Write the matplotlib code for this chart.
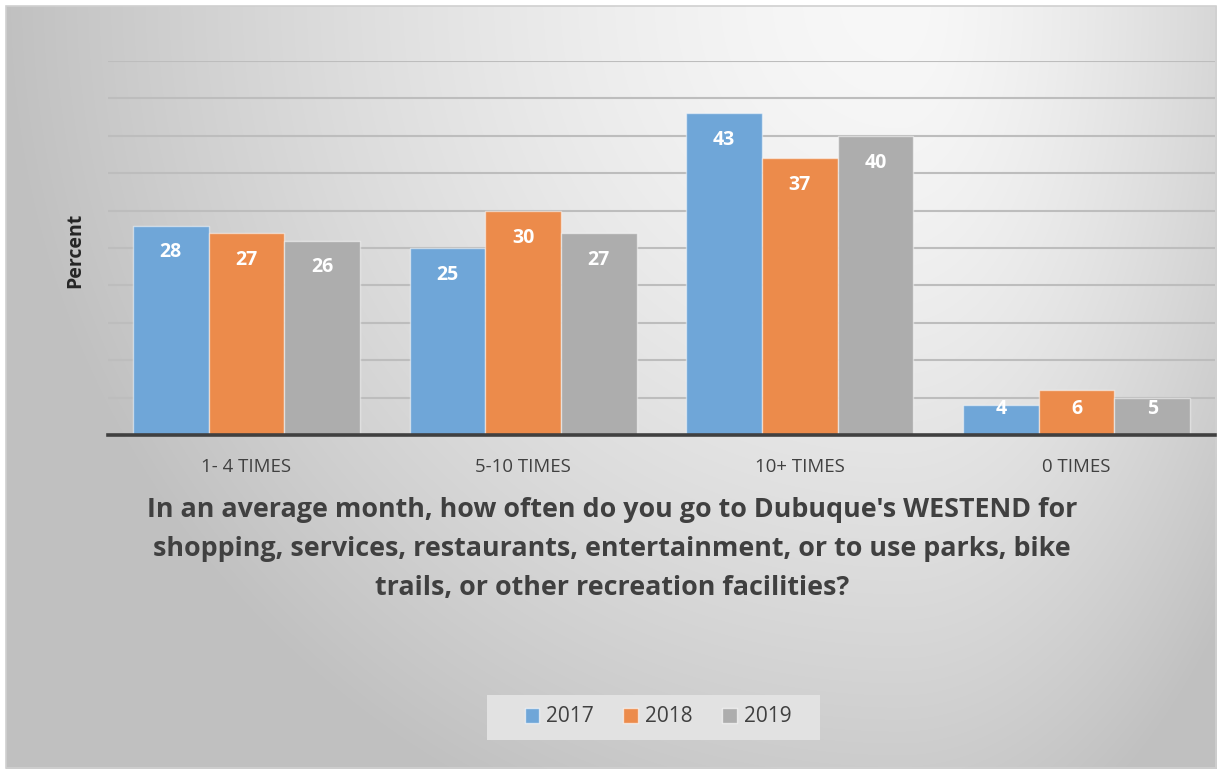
import numpy as np
import matplotlib
matplotlib.use('Agg')
import matplotlib.pyplot as plt
from matplotlib.patches import Patch, Rectangle

plt.rcParams['font.family'] = ['Open Sans', 'DejaVu Sans']

# данные
categories = ['1- 4 TIMES', '5-10 TIMES', '10+ TIMES', '0 TIMES']
years = ['2017', '2018', '2019']
v2017 = [28, 25, 43, 4]
v2018 = [27, 30, 37, 6]
v2019 = [26, 27, 40, 5]
series = [v2017, v2018, v2019]
colors = ['#6fa6d8', '#ec8b4b', '#adadad']
title = ("In an average month, how often do you go to Dubuque's WESTEND for\n"
         "shopping, services, restaurants, entertainment, or to use parks, bike\n"
         "trails, or other recreation facilities?")

W, H = 1217, 769
fig = plt.figure(figsize=(W / 100, H / 100), dpi=100)

# фон с градиентом
bg = fig.add_axes([0, 0, 1, 1], zorder=0)
yy, xx = np.mgrid[0:H, 0:W]
dx = xx - 900.0
dx = np.where(dx < 0, dx / 900.0, dx / 450.0)
dy = yy / 900.0
d = np.clip(np.sqrt(dx ** 2 + dy ** 2), 0, 1)
shade = (248 - 56 * d ** 1.5) / 255.0
img = np.dstack([shade, shade, shade])
img[:6, :, :] = 1.0
img[:, :6, :] = 1.0
bg.imshow(img, extent=(0, W, H, 0), aspect='auto', interpolation='bilinear')
bg.add_patch(Rectangle((6, 6), W - 7, H - 7, fill=False, edgecolor='#d0d0d0', lw=1.2))
# рамка легенды
bg.add_patch(Rectangle((487, 695), 333, 45, facecolor='#e2e2e2', edgecolor='none'))
bg.set_xlim(0, W)
bg.set_ylim(H, 0)
bg.axis('off')

# основной график
ax = fig.add_axes([108 / W, 1 - 435 / H, (1215 - 108) / W, (435 - 61) / H], zorder=1)
ax.set_facecolor('none')
x = np.arange(len(categories))
bw = 0.2735
for i, (vals, c, yr) in enumerate(zip(series, colors, years)):
    pos = x + (i - 1) * bw
    ax.bar(pos, vals, bw, color=c, edgecolor=(1, 1, 1, 0.5), linewidth=1, zorder=3, label=yr)
    for px, v in zip(pos, vals):
        ax.text(px, max(v - 3.6, 3.5), str(v), ha='center', va='center', color='white',
                fontsize=14, fontweight='bold', zorder=4)

ax.set_xlim(-0.5, len(categories) - 0.5)
ax.set_ylim(0, 50)
ax.set_yticks(np.arange(5, 51, 5))
ax.yaxis.grid(True, color='#bdbdbd', lw=1.5, zorder=1)
ax.set_yticklabels([])
ax.tick_params(axis='y', length=0)
ax.set_xticks(x)
ax.set_xticklabels(categories, fontsize=13.4, color='#404040')
ax.tick_params(axis='x', length=0, pad=16.5)
for s in ax.spines.values():
    s.set_visible(False)
ax.axhline(0, color='#404040', lw=2.6, zorder=5, clip_on=False)

fig.text(75 / W, 1 - 250 / H, 'Percent', rotation=90, ha='center', va='center',
         fontsize=14, fontweight='bold', color='#262626')

fig.text(612 / W, 1 - 549 / H, title, ha='center', va='center', fontsize=19.4,
         fontweight='bold', color='#404040', linespacing=1.65)

handles = [Patch(facecolor=c, edgecolor=(1, 1, 1, 0.6), label=yr) for c, yr in zip(colors, years)]
leg = fig.legend(handles=handles, loc='center', bbox_to_anchor=(658 / W, 1 - 717 / H), ncol=3,
                 fontsize=15, frameon=False, handlelength=0.7, handleheight=0.7,
                 handletextpad=0.35, columnspacing=1.4, labelcolor='#404040')

fig.savefig('out.png', dpi=100)
